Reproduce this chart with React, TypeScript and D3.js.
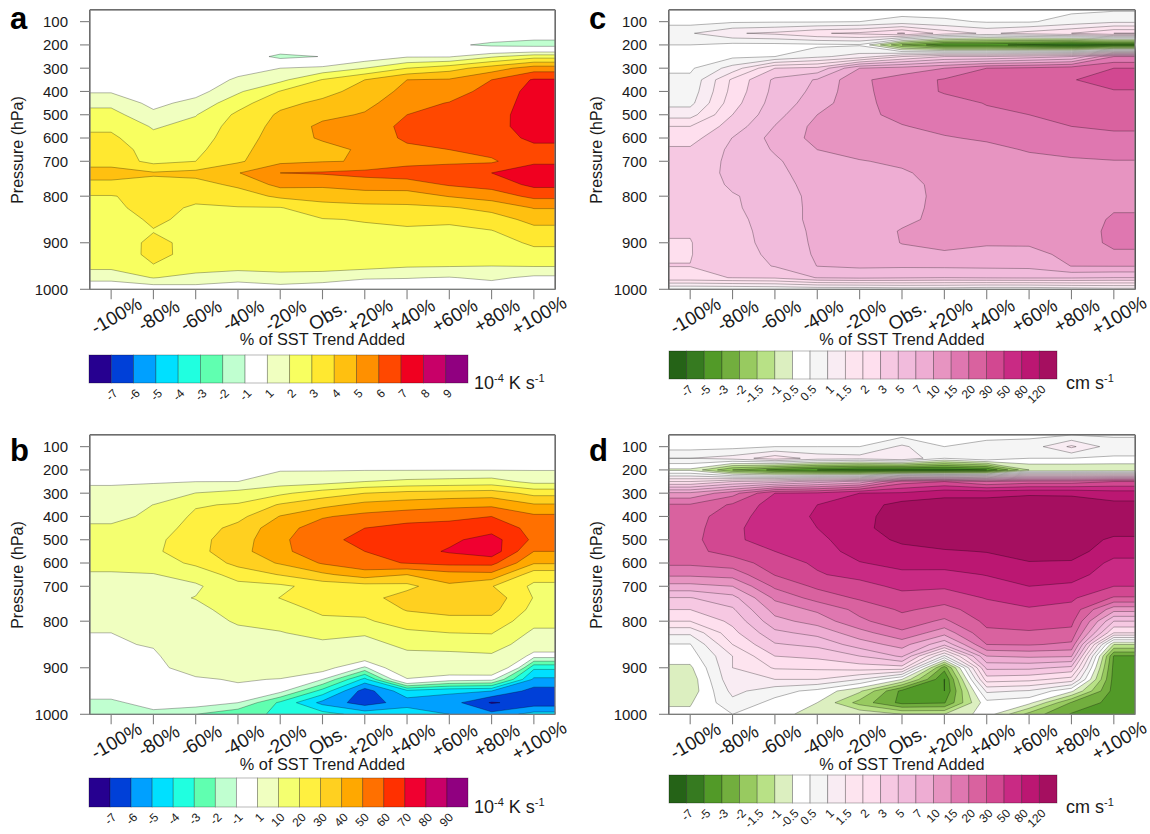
import React from "react";
import * as d3 from "d3";

// pressure levels of the grid (hPa), top to bottom
const LEVELS = [50,100,150,200,250,300,350,400,450,500,550,600,650,700,750,775,800,825,850,875,900,925,950,975,1000];
const Y_TICKS = [100,200,300,400,500,600,700,800,900,1000];
const X_LABELS = ["-100%","-80%","-60%","-40%","-20%","Obs.","+20%","+40%","+60%","+80%","+100%"];

// Each row below is one SST-trend experiment (-100% ... +100%), values per pressure level
const HEATING_A = [
[0,0,0,0,0,0,.3,.9,1.75,2.35,2.8,3.2,3.5,3.6,4.4,3.75,2.95,2.85,2.7,2.6,2.5,2.4,2.3,1.3,.3],
[0,0,0,0,0,0,.1,.3,.7,1.25,1.9,2.25,2.55,2.7,4.1,3.75,3.3,3.25,3.1,2.97,3.2,3.25,2.95,2.05,.3],
[0,0,0,0,0,.2,.4,.6,1.35,1.95,2.3,2.5,2.75,3.0,4.3,3.65,3.2,2.9,2.85,2.8,2.75,2.7,2.6,1.6,.6],
[0,0,0,0,.1,.6,1.15,1.85,2.6,3.2,3.45,3.6,3.75,3.85,4.95,4.2,3.5,2.95,2.9,2.85,2.8,2.7,2.45,1.3,.5],
[0,0,0,.5,-1.4,1.0,1.75,3.05,3.75,4.15,4.3,4.4,4.5,4.75,6.0,5.3,4.2,2.95,2.85,2.8,2.75,2.65,2.5,1.55,.6],
[0,0,0,.5,-.95,1.3,3.05,3.7,4.2,4.7,5.25,5.15,4.6,4.95,6.1,5.2,4.4,3.6,2.95,2.85,2.8,2.7,2.6,1.3,.6],
[0,0,0,.4,.3,2,4.0,4.35,4.7,5.1,5.35,5.3,5.2,5.05,6.3,5.5,4.5,3.75,3.05,2.85,2.75,2.6,2.35,1.1,.3],
[0,0,0,.3,.9,3.0,5.0,5.3,5.65,6.0,6.3,6.2,5.75,5.65,6.5,5.55,4.5,3.8,3.3,2.8,2.65,2.45,2.1,1.05,.3],
[0,0,0,-.7,.9,3.6,5.1,5.5,6.05,6.35,6.45,6.3,6.0,5.8,6.6,6.1,5.05,3.9,3.2,2.75,2.55,2.35,2.05,.95,.3],
[0,0,.1,-1.3,1.85,4.5,6,6.4,6.5,6.6,6.65,6.55,6.35,5.85,7.0,6.4,5.45,4.3,3.55,2.95,2.6,2.3,2.0,1.2,.4],
[0,0,-.3,-1.5,2.6,5.5,7.1,7.3,7.4,7.5,7.45,7.2,6.75,6.8,7.6,7.25,6.25,5.05,4.3,3.7,3.15,2.7,2.05,.8,.3],
];

const HEATING_B = [
[0,0,0,0,.5,2,5,8,11.2,13,14,13,9,8,7,6,4.5,1.0,.7,.5,.3,.2,-.3,-1.3,-1.6],
[0,0,0,0,.6,3,10.1,11.5,13.5,17,18,15,9.5,8.5,7.5,6.5,5,3,1.2,.6,.4,.3,.2,-.4,-1.4],
[0,0,0,.2,.9,10.2,19,22,25,27,27,22,14,8.5,10.3,8,6,5,4,3,2,.7,.4,-.4,-2.0],
[0,0,0,.3,1,13,21,27,33,35,36,33,24,17,15,13,11,8,5.5,4,2.5,1.2,.5,-1,-2.8],
[0,0,0,.5,5,18,31,40.5,46,48,48,41,30.5,18,20.2,16,13,9.5,6,4,2.5,.9,-.7,-3.2,-3.1],
[0,0,0,.5,6,25,37,49,55,57,55,51,38,24,23,22,18,13,8,5,2,-1,-3.4,-5.3,-3.6],
[0,0,0,.6,10,30,43,53,60,63,60,57,45,26,26,23,18.5,11,7,2.5,-1.3,-4.3,-6.5,-6.5,-4.4],
[0,0,0,.6,12,33,45,56,63,67,66,60.5,40,27,35,30.7,25,18,12,8,3.5,.8,-4.3,-5.5,-4.3],
[0,0,0,.7,13,34,47,58,63,68,71,63,46,38,36,33,27,20,13,8,3.5,-.5,-4.8,-5.55,-5],
[0,0,0,.7,14,35,48,60,66,74,76,63,47,30.5,36,33,27,20.5,15,8.5,4,-.7,-5,-7.1,-5.7],
[0,0,0,.7,7,27,41,52,57,58,50,41,24,18,19.5,17,13,8,4,-.6,-3.8,-5.2,-6.4,-6.6,-4.6],
];

const OMEGA_C = [
[0,.1,.95,.5,.2,.35,.6,.7,.85,1.3,2,2.6,3.3,3.4,3.4,3.3,3.3,3.2,3.2,3.1,2.97,2.97,3.02,2.8,.45],
[0,.35,1.45,.2,.3,1.2,2.2,2.35,2.6,3,3.9,5.05,5.4,5.6,5.7,5.4,4.8,4.7,4.4,4.2,4.1,4,4,3.05,.5],
[0,.4,1.6,.2,.5,3.0,5.4,5.6,5.9,6.3,7.1,8,7.3,6.7,6.4,6.2,6,6,6,5.9,5.8,5.5,5.1,3.3,.55],
[0,.4,1.95,.3,.9,3.5,7.3,7.8,8.5,10,11.5,11.5,10,9,8.7,8.2,7.9,7.8,7.8,7.6,7.5,7.4,7.05,5.1,.6],
[0,.5,2.2,.4,1.2,10,14,14,14,14,13.8,13.5,12,9.8,9.4,9,8.6,8.3,8.2,8.1,8,7.8,7.5,5.4,.6],
[0,.7,3.2,-2,2,12,17.5,17,16.5,16,14.8,13.8,12.5,11,9.6,9,8.8,9,9.3,10.4,10.2,9,7.4,5.2,.7],
[0,.6,1.8,-4.5,3,15,21,21,18,17.5,16,14.7,13.5,13,12,11.5,11.5,11.5,11.5,11.5,11,9.7,7.5,5,.7],
[0,.4,1.4,-4.5,3,20,27,27,20.5,19,17,15.5,14,13,12.5,12.5,13,13,12.5,12,10.3,9.5,7.6,5.2,.6],
[0,.4,1.7,-5.5,4,22,28,29,25,20,18,16.5,15.3,14,13.5,13.5,13.5,13,12.5,12,10.5,9.3,7.7,5.3,.6],
[.3,.7,2,-6.5,5,25,29.6,29,26,23,20,18,16.5,14.3,14,13.5,13,12.5,12,11.5,11.5,11,10.1,5.3,.7],
[.4,.9,3,-5.5,15,30,36,29.5,27,25,22,18.5,17,14.8,14.5,14.3,14.3,14.5,15.7,16.5,16.3,14,10.2,5,.8],
];

const OMEGA_D = [
[0,.1,1,-.6,2,11,21,26,26,27,27,22,16,9,4.9,3,2,1.1,.45,0,-.6,-.8,-.8,-.55,-.3],
[0,.2,1.2,-2,3,18,33,40,45,45,38,25,17,10,6.3,4.7,3.5,2.7,2,1.5,1.5,1.4,1.15,.85,.5],
[0,.5,1.8,-3.5,4,50,65,70,70,68,50,40,31,22,16,12,9,6.5,4.8,3,2.1,1.5,.7,.2,0],
[0,.5,1.3,-5,6,55,80,83,80,72,62,55,48,34,24,16,12,8,5.5,3.5,2.2,1.5,.2,-.5,-.8],
[0,.5,1.2,-6,8,80,100,108,110,105,100,78,60,42,33,23,19,13,8.5,5,2.5,1,-.9,-1.7,-.6],
[.2,1.1,1.5,-6,25,85,135,139,139,126,110,95,72,58,42,33,26,19,12,7.5,2.6,-.5,-3.6,-3.6,-1],
[0,.5,.5,-6,30,110,135,155,160,145,115,98,70,55,38,27,19,12,5.5,.9,-2.6,-5.1,-5,-3.2,-1],
[0,.8,1,-5,20,110,135,145,150,140,122,100,82,65,52,40,35,28,20,10,5.5,2.5,1.1,.2,0],
[.3,.7,.5,-1,25,115,140,150,155,150,140,117,95,80,62,48,38,29,21,11,5.5,2.3,.95,-.2,-1.7],
[.5,1.6,.5,-1,25,115,135,150,155,150,138,115,95,75,55,44,36,27,19,10.5,4.5,1.8,-.3,-2.1,-3.2],
[.4,.7,.4,-1,30,100,130,150,145,110,95,72,65,50,29,12,5,2,-1,-3.2,-3.6,-3.8,-3.8,-3.8,-3.5],
];

// colour-bar levels
const LEVELS_A = [-7,-6,-5,-4,-3,-2,-1,1,2,3,4,5,6,7,8,9];
const LEVELS_B = [-7,-6,-5,-4,-3,-2,-1,1,10,20,30,40,50,60,70,80,90];
const LEVELS_CD = [-7,-5,-3,-2,-1.5,-1,-.5,.5,1,1.5,2,3,5,7,10,15,20,30,50,80,120];

const COLORS_A = ["#260090","#0040d8","#00a0ff","#00e0ff","#20ffe0","#60ffb0","#c0ffd0","#ffffff","#f0ffc0","#f8ff60","#ffe830","#ffc010","#ff9000","#ff4800","#f00020","#c80068","#900080"];
const COLORS_B = ["#260090","#0040d8","#00a0ff","#00e0ff","#20ffe0","#60ffb0","#c0ffd0","#ffffff","#f0ffc0","#f4ff70","#fff040","#ffd020","#ffa800","#ff7000","#ff3000","#f00030","#c80068","#900080"];
const COLORS_CD = ["#256317","#367a20","#529a28","#72ae3e","#98ca60","#b8e186","#dcefc0","#ffffff","#f5f5f5","#f9ecf3","#fde4ef","#fedfee","#f6c8e2","#f1bbdc","#eeadd3","#e794c1","#df77b0","#d9629f","#d24891","#c92a84","#bb1772","#a50f60"];

const FONT = "'Liberation Sans', Arial, Helvetica, sans-serif";
const INK = "#1a1a1a";

function Panel({ letter, letterY, x0, y0, columns, levels, colors, indexed, barX, barY, barW, barH, unit }: any) {
  const W = x0 < 300 ? 465 : 466;
  const H = 279.3;
  const x1 = x0 + W, y1 = y0 + H;
  const nx = columns.length + 2, ny = LEVELS.length;
  const step = W / 11;
  const toIndex = d3.scaleLinear().domain(levels).range(levels.map((_: number, i: number) => i));
  const tr = (v: number) => (indexed ? toIndex(v) : v);
  const vals: number[] = [];
  for (let r = 0; r < ny; r++) {
    for (let c = 0; c < nx; c++) {
      const col = columns[Math.max(0, Math.min(columns.length - 1, c - 1))];
      vals.push(tr(col[r]));
    }
  }
  const tickX = d3.scaleLinear().domain([0, 10]).range([x0 + step / 2, x1 - step / 2]);
  const gridX = d3.scaleLinear().domain([0.5, 1.5, nx - 1.5, nx - 0.5]).range([x0, tickX(0), tickX(10), x1]).clamp(true);
  const gridY = d3.scaleLinear().domain([0.5, ny - 0.5]).range([y0, y1]).clamp(true);
  const yP = d3.scaleLinear().domain(LEVELS).range(LEVELS.map((_, i) => gridY(i + 0.5)));
  const th = levels.map((v: number) => tr(v));
  const contours = d3.contours().size([nx, ny]).smooth(true).thresholds(th)(vals);
  const path = d3.geoPath(d3.geoTransform({ point(this: any, x: number, y: number) { this.stream.point(gridX(x), gridY(y)); } }));
  const bar = d3.scaleLinear().domain([0, colors.length]).range([barX, barX + barW]);
  const frame = "#7f7f7f";
  return (
    <g fontFamily={FONT} fill={INK}>
      <rect x={x0} y={y0} width={W} height={H} fill={colors[0]} />
      {contours.map((c: any, i: number) => (
        <path key={i} d={path(c) || ""} fill={colors[i + 1]} stroke="#000" strokeOpacity={0.42} strokeWidth={0.7} />
      ))}
      <rect x={x0} y={y0} width={W} height={H} fill="none" stroke={frame} strokeWidth={1.2} />
      {Y_TICKS.map((p) => (
        <g key={p}>
          <line x1={x0 - 10} x2={x0} y1={yP(p)} y2={yP(p)} stroke={frame} strokeWidth={1.1} />
          <text x={x0 - 22} y={yP(p)} dy="0.36em" textAnchor="end" fontSize={15}>{p}</text>
        </g>
      ))}
      {X_LABELS.map((l, i) => (
        <g key={l}>
          <line x1={tickX(i)} x2={tickX(i)} y1={y1} y2={y1 + 10} stroke={frame} strokeWidth={1.1} />
          <text transform={`translate(${tickX(i) + 5},${y1 + 26}) rotate(-30)`} textAnchor="middle" dy="0.36em" fontSize={19}>{l}</text>
        </g>
      ))}
      <text x={(x0 + x1) / 2} y={y1 + 56} textAnchor="middle" fontSize={16.3}>% of SST Trend Added</text>
      <text transform={`translate(${x0 - 73},${y0 + 140}) rotate(-90)`} dy="0.36em" textAnchor="middle" fontSize={16}>Pressure (hPa)</text>
      <text x={x0 - 80} y={letterY} fontSize={31} fontWeight="bold" fill="#000">{letter}</text>
      {colors.map((c: string, i: number) => (
        <rect key={c + i} x={bar(i)} y={barY} width={bar(1) - bar(0)} height={barH} fill={c} stroke="#000" strokeOpacity={0.35} strokeWidth={0.8} />
      ))}
      {levels.map((v: number, i: number) => (
        <text key={v} transform={`translate(${bar(i + 1) + 4},${barY + barH + 8}) rotate(-45)`} textAnchor="end" dy="0.36em" fontSize={12}>{String(v)}</text>
      ))}
      {unit === "K" ? (
        <text x={barX + barW + 6} y={barY + barH + 6} fontSize={18}>10<tspan dy={-7} fontSize={11}>-4</tspan><tspan dy={7}> K s</tspan><tspan dy={-7} fontSize={11}>-1</tspan></text>
      ) : (
        <text x={barX + barW + 9} y={barY + barH + 10} fontSize={18}>cm s<tspan dy={-7} fontSize={11}>-1</tspan></text>
      )}
    </g>
  );
}

export default function App() {
  return (
    <svg width={1150} height={834} style={{ position: "absolute", left: 0, top: 0, background: "#fff" }}>
      <Panel letter="a" letterY={28.5} x0={90} y0={10} columns={HEATING_A} levels={LEVELS_A} colors={COLORS_A} indexed={false} barX={89} barY={355} barW={379} barH={28} unit="K" />
      <Panel letter="b" letterY={461} x0={90} y0={435} columns={HEATING_B} levels={LEVELS_B} colors={COLORS_B} indexed={false} barX={89} barY={778} barW={379} barH={29} unit="K" />
      <Panel letter="c" letterY={28.5} x0={669} y0={10} columns={OMEGA_C} levels={LEVELS_CD} colors={COLORS_CD} indexed={true} barX={669} barY={351} barW={388} barH={28} unit="cm" />
      <Panel letter="d" letterY={461} x0={669} y0={435} columns={OMEGA_D} levels={LEVELS_CD} colors={COLORS_CD} indexed={true} barX={669} barY={775} barW={388} barH={28} unit="cm" />
    </svg>
  );
}
